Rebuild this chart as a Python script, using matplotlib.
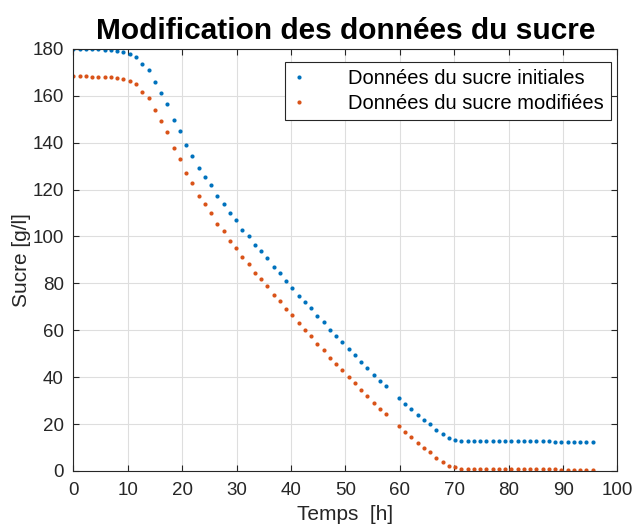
import numpy as np
import matplotlib
matplotlib.use('Agg')
import matplotlib.pyplot as plt

plt.rcParams['font.family'] = ['Liberation Sans', 'DejaVu Sans']

# pas d'échantillonnage [h] ; l'échantillon 51 manque dans les deux séries
pas = 1.15

sucre_init = [
    180.0, 180.0, 180.0, 179.9, 179.9, 179.7, 179.6, 179.2, 178.8, 177.9,
    176.5, 173.6, 170.8, 165.7, 161.1, 156.3, 149.5, 144.8, 138.9, 134.5,
    129.1, 125.5, 121.8, 117.3, 114.0, 109.9, 106.8, 102.9, 100.1, 96.4,
    93.6, 90.6, 87.0, 84.3, 80.9, 78.2, 74.7, 72.1, 69.4, 66.1,
    63.4, 60.0, 57.5, 55.0, 51.9, 49.5, 46.4, 43.9, 40.9, 38.5,
    36.3, np.nan, 31.3, 28.4, 26.3, 23.7, 21.7, 19.9, 17.4, 15.9,
    14.0, 13.3, 12.9, 12.9, 12.9, 12.8, 12.8, 12.8, 12.8, 12.7,
    12.7, 12.7, 12.7, 12.6, 12.6, 12.6, 12.6, 12.5, 12.5, 12.5,
    12.5, 12.4, 12.4, 12.4,
]

sucre_modif = [
    168.2, 168.2, 168.2, 168.1, 168.1, 168.0, 167.8, 167.4, 167.0, 166.2,
    164.8, 161.8, 159.0, 153.9, 149.3, 144.5, 137.7, 133.0, 127.1, 122.7,
    117.3, 113.7, 110.0, 105.5, 102.2, 98.1, 95.0, 91.1, 88.3, 84.6,
    81.8, 78.8, 75.2, 72.5, 69.1, 66.4, 62.9, 60.3, 57.6, 54.3,
    51.6, 48.2, 45.7, 43.2, 40.1, 37.7, 34.6, 32.1, 29.1, 26.6,
    24.3, np.nan, 19.2, 16.5, 14.4, 11.8, 9.8, 8.0, 5.4, 4.0,
    2.1, 1.5, 1.0, 1.0, 1.0, 1.0, 0.9, 0.9, 0.9, 0.9,
    0.8, 0.8, 0.8, 0.8, 0.7, 0.7, 0.7, 0.7, 0.6, 0.6,
    0.6, 0.6, 0.5, 0.5,
]

t = np.arange(len(sucre_init)) * pas

gris = (0.15, 0.15, 0.15)

fig = plt.figure(figsize=(6.33, 5.25), dpi=100)
ax = fig.add_axes([0.116, 0.103, 0.8595, 0.804])

ax.plot(t, sucre_init, 'o', ms=3.0, mew=0, color='#0072BD',
        label='Données du sucre initiales')
ax.plot(t, sucre_modif, 'o', ms=3.0, mew=0, color='#D95319',
        label='Données du sucre modifiées')

ax.set_xlim(0, 100)
ax.set_ylim(0, 180)
ax.set_xticks(np.arange(0, 101, 10))
ax.set_yticks(np.arange(0, 181, 20))
ax.grid(True, color='#dedede', linewidth=0.8)
ax.set_axisbelow(True)

for s in ax.spines.values():
    s.set_color(gris)
    s.set_linewidth(0.8)
ax.tick_params(direction='in', length=4, width=0.8, colors=gris,
               labelsize=13.5, top=True, right=True)
ax.tick_params(axis='x', pad=8)
ax.tick_params(axis='y', pad=7)

ax.set_xlabel('Temps  [h]', fontsize=15, color=gris, labelpad=4)
ax.set_ylabel('Sucre [g/l]', fontsize=15, color=gris, labelpad=1)
ax.set_title('Modification des données du sucre', fontsize=21.5,
             fontweight='bold', pad=7)

leg = ax.legend(loc='upper right', bbox_to_anchor=(0.988, 0.969),
                fontsize=14.5, numpoints=1, handlelength=0.7,
                fancybox=False, framealpha=1, borderaxespad=0,
                borderpad=0.35, labelspacing=0.3, handletextpad=2.1)
leg.get_frame().set_edgecolor(gris)
leg.get_frame().set_linewidth(0.8)

fig.savefig('out.png', dpi=100)
